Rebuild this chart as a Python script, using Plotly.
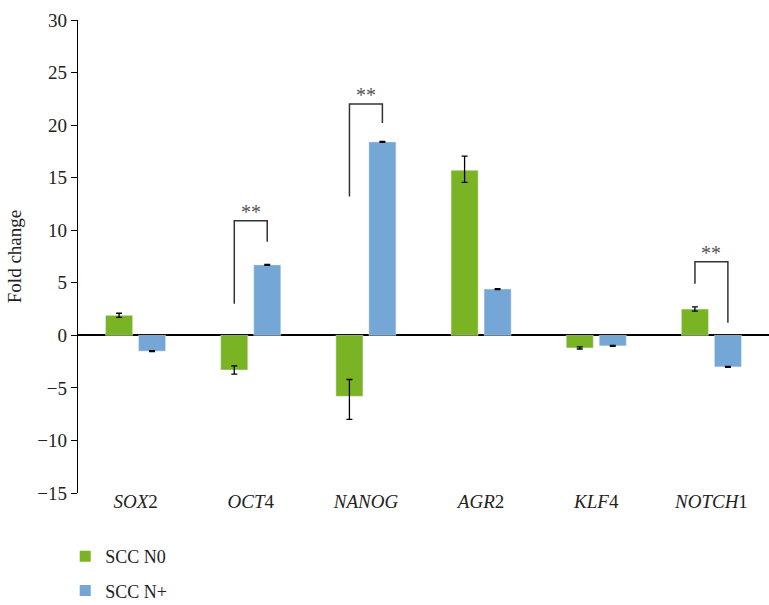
import plotly.graph_objects as go

genes = ["<i>SOX</i>2", "<i>OCT</i>4", "<i>NANOG</i>", "<i>AGR</i>2", "<i>KLF</i>4", "<i>NOTCH</i>1"]
n0_values = [1.9, -3.3, -5.8, 15.7, -1.2, 2.5]
n0_err_up = [0.2, 0.4, 1.6, 1.35, 0.1, 0.2]
n0_err_down = [0.2, 0.4, 2.2, 1.15, 0.1, 0.2]
nplus_values = [-1.5, 6.7, 18.4, 4.4, -1.0, -3.0]
nplus_err = [0.05, 0.05, 0.05, 0.05, 0.05, 0.05]

# significance brackets: (category index, left foot, top, right foot)
brackets = [(1, 3.0, 10.9, 8.9), (2, 13.2, 22.0, 20.2), (5, 4.9, 7.0, 1.2)]

GREEN = "#7AB323"
BLUE = "#74A6D6"
FONT = "Liberation Serif"
x_idx = list(range(len(genes)))

fig = go.Figure()
fig.add_trace(go.Bar(
    x=x_idx, y=n0_values, name="SCC N0", marker_color=GREEN, showlegend=False,
    error_y=dict(type="data", symmetric=False, array=n0_err_up, arrayminus=n0_err_down,
                 color="black", thickness=1.3, width=3),
))
fig.add_trace(go.Bar(
    x=x_idx, y=nplus_values, name="SCC N+", marker_color=BLUE, showlegend=False,
    error_y=dict(type="data", array=nplus_err, color="black", thickness=1.3, width=3),
))

# small square legend keys
for name, color, group in [("SCC N0", GREEN, "a"), ("SCC N+", BLUE, "b")]:
    fig.add_trace(go.Scatter(
        x=[None], y=[None], mode="markers", name=name, legendgroup=group,
        marker=dict(symbol="square", size=11, color=color),
    ))

half = 0.143
for i, y_left, y_top, y_right in brackets:
    xl, xr = i - half, i + half
    fig.add_shape(type="path",
                  path=f"M {xl},{y_left} L {xl},{y_top} L {xr},{y_top} L {xr},{y_right}",
                  line=dict(color="#333333", width=1.5))
    fig.add_annotation(x=i, y=y_top, text="**", showarrow=False, yanchor="bottom",
                       yshift=-4, font=dict(family=FONT, size=20, color="#555555"))

fig.update_layout(
    width=769, height=605,
    margin=dict(l=78, r=0, t=20, b=112, autoexpand=False),
    plot_bgcolor="white", paper_bgcolor="white",
    barmode="group", bargap=0.427, bargroupgap=0.18,
    font=dict(family=FONT, size=18, color="#222222"),
    legend=dict(x=-0.0185, y=-0.095, xanchor="left", yanchor="top",
                traceorder="grouped", tracegroupgap=8,
                font=dict(family=FONT, size=18), itemwidth=30),
    xaxis=dict(range=[-0.5, 5.5], tickmode="array", tickvals=x_idx, ticktext=genes,
               showline=False, ticks="", ticklabelstandoff=-5,
               showgrid=False, zeroline=False,
               tickfont=dict(family=FONT, size=19)),
    yaxis=dict(range=[-15, 30], tickvals=list(range(-15, 31, 5)),
               ticktext=["\u221215", "\u221210", "\u22125", "0", "5", "10", "15", "20", "25", "30"],
               showline=True, linecolor="black", linewidth=1.3,
               ticks="outside", ticklen=6, tickcolor="black",
               showgrid=False, zeroline=True, zerolinecolor="black", zerolinewidth=1.5,
               title=dict(text="Fold change", font=dict(family=FONT, size=19), standoff=10),
               tickfont=dict(family=FONT, size=19)),
)

fig.write_html("out.html")
